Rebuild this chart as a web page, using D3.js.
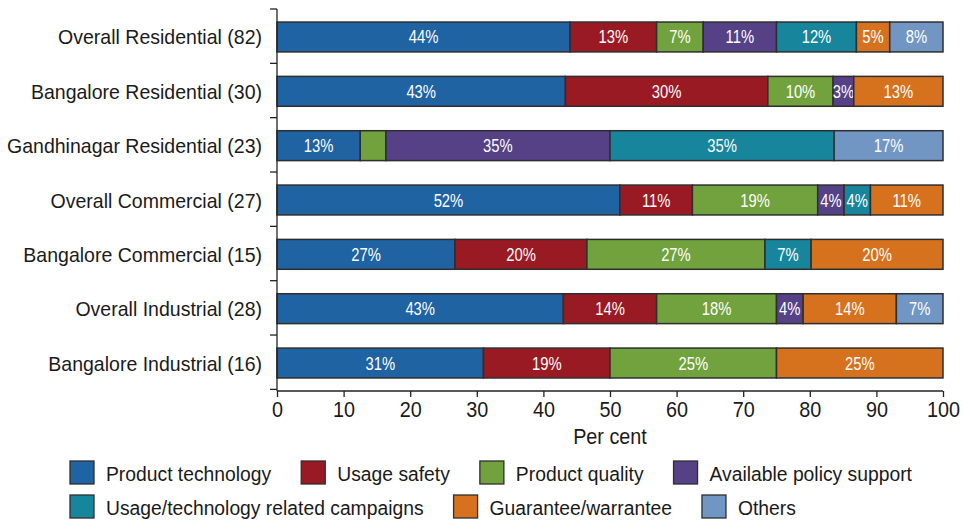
<!DOCTYPE html>
<html>
<head>
<meta charset="utf-8">
<script src="https://cdn.jsdelivr.net/npm/d3@7/dist/d3.min.js"></script>
<style>
  html, body { margin: 0; padding: 0; background: #fff; }
  svg { display: block; font-family: "Liberation Sans", Arial, sans-serif; }
</style>
</head>
<body>
<svg id="chart" width="968" height="522"></svg>
<script>
// Segments: categories (respondent groups) and the share of each reason, per cent
const categories = [
  "Overall Residential (82)",
  "Bangalore Residential (30)",
  "Gandhinagar Residential (23)",
  "Overall Commercial (27)",
  "Bangalore Commercial (15)",
  "Overall Industrial (28)",
  "Bangalore Industrial (16)"
];
const seriesNames = [
  "Product technology",
  "Usage safety",
  "Product quality",
  "Available policy support",
  "Usage/technology related campaigns",
  "Guarantee/warrantee",
  "Others"
];
const productTechnology   = [44, 43.3, 13, 52, 27, 43, 31];
const usageSafety         = [13, 30.4, 0, 11, 20, 14, 19];
const productQuality      = [7, 9.8, 4, 19, 27, 18, 25];
const policySupport       = [11, 3.1, 35, 4, 0, 4, 0];
const campaigns           = [12, 0, 35, 4, 7, 0, 0];
const guarantee           = [5, 13.4, 0, 11, 20, 14, 25];
const others              = [8, 0, 17, 0, 0, 7, 0];
const seriesValues = [productTechnology, usageSafety, productQuality, policySupport, campaigns, guarantee, others];
const colors = ["#1f63a3", "#9a1a23", "#72a23d", "#564187", "#17869d", "#d6721e", "#7196c4"];
// cells too narrow to carry a value label
const unlabelled = [["Gandhinagar Residential (23)", "Product quality"]];
const xTicks = [0, 10, 20, 30, 40, 50, 60, 70, 80, 90, 100];
const xTitle = "Per cent";

const rows = categories.map((c, i) => {
  const r = { category: c };
  seriesNames.forEach((s, j) => { r[s] = seriesValues[j][i]; });
  return r;
});

const svg = d3.select("#chart");
const plotLeft = 277, plotRight = 943, plotTop = 9, plotBottom = 391;

const x = d3.scaleLinear().domain([0, 100]).range([plotLeft, plotRight]);
const y = d3.scaleBand().domain(categories).range([plotTop, plotBottom])
  .paddingInner(0.45).paddingOuter(0.24);
const color = d3.scaleOrdinal().domain(seriesNames).range(colors);

// Each bar is shown as the composition of its own total (100 per cent)
const stack = d3.stack().keys(seriesNames).offset(d3.stackOffsetExpand);
const stacked = stack(rows);

const layers = svg.append("g").selectAll("g").data(stacked).join("g")
  .attr("fill", d => color(d.key));

layers.selectAll("rect")
  .data(d => d.map(p => ({ key: d.key, p })).filter(d => d.p.data[d.key] > 0))
  .join("rect")
  .attr("x", d => x(d.p[0] * 100))
  .attr("y", d => y(d.p.data.category))
  .attr("width", d => x(d.p[1] * 100) - x(d.p[0] * 100))
  .attr("height", y.bandwidth())
  .attr("stroke", "#2e2e2e")
  .attr("stroke-width", 1.5);

const isUnlabelled = (cat, key) => unlabelled.some(u => u[0] === cat && u[1] === key);

// value labels in a condensed face
layers.selectAll("text")
  .data(d => d.map(p => ({ key: d.key, p }))
    .filter(d => d.p.data[d.key] > 0 && !isUnlabelled(d.p.data.category, d.key)))
  .join("text")
  .attr("transform", d => {
    const cx = (x(d.p[0] * 100) + x(d.p[1] * 100)) / 2;
    const cy = y(d.p.data.category) + y.bandwidth() / 2 + 6.5;
    return `translate(${cx},${cy}) scale(0.8,1)`;
  })
  .attr("text-anchor", "middle")
  .attr("fill", "#fff")
  .style("font-size", "18.5px")
  .text(d => Math.round(d.p.data[d.key]) + "%");

// Y axis: line with ticks at band boundaries, labels centred on the bars
const step = y.step();
const boundaries = d3.range(categories.length + 1).map(i => plotTop + i * step);
const yAxis = svg.append("g");
yAxis.append("line")
  .attr("x1", plotLeft).attr("x2", plotLeft).attr("y1", plotTop).attr("y2", plotBottom)
  .attr("stroke", "#222").attr("stroke-width", 1.3);
yAxis.selectAll("line.tick").data(boundaries).join("line")
  .attr("class", "tick")
  .attr("x1", plotLeft - 7).attr("x2", plotLeft)
  .attr("y1", d => d).attr("y2", d => d)
  .attr("stroke", "#222").attr("stroke-width", 1.3);
yAxis.selectAll("text").data(categories).join("text")
  .attr("transform", d => `translate(${plotLeft - 15},${y(d) + y.bandwidth() / 2 + 7.5}) scale(0.93,1)`)
  .attr("text-anchor", "end")
  .attr("fill", "#1a1a1a")
  .style("font-size", "21px")
  .text(d => d);

// X axis
const xAxis = svg.append("g")
  .attr("transform", `translate(0,${plotBottom})`)
  .call(d3.axisBottom(x).tickValues(xTicks).tickSize(6).tickPadding(4).tickFormat(d3.format("d")));
xAxis.select(".domain").attr("stroke", "#222").attr("stroke-width", 1.3)
  .attr("d", `M${plotLeft},0H${plotRight}`);
xAxis.selectAll(".tick line").attr("stroke", "#222").attr("stroke-width", 1.3);
xAxis.selectAll(".tick text")
  .attr("fill", "#1a1a1a")
  .attr("transform", "scale(0.88,1)")
  .attr("x", function () { return 0; })
  .style("font-size", "22.5px");

svg.append("text")
  .attr("transform", `translate(${(plotLeft + plotRight) / 2},444) scale(0.9,1)`)
  .attr("text-anchor", "middle")
  .attr("fill", "#1a1a1a")
  .style("font-size", "22px")
  .text(xTitle);

// Legend: two flowing rows
const legendRows = [seriesNames.slice(0, 4), seriesNames.slice(4)];
const legend = svg.append("g");
const legendScaleX = 0.92;
legendRows.forEach((names, ri) => {
  let cx = 70;
  const cy = 461 + ri * 34;
  names.forEach(name => {
    const g = legend.append("g");
    g.append("rect")
      .attr("x", cx).attr("y", cy)
      .attr("width", 24).attr("height", 23)
      .attr("fill", color(name))
      .attr("stroke", "#2e2e2e").attr("stroke-width", 1.3);
    const t = g.append("text")
      .attr("transform", `translate(${cx + 36},${cy + 19.5}) scale(${legendScaleX},1)`)
      .attr("fill", "#1a1a1a")
      .style("font-size", "21px")
      .text(name);
    cx = cx + 36 + t.node().getComputedTextLength() * legendScaleX + 30;
  });
});
</script>
</body>
</html>
